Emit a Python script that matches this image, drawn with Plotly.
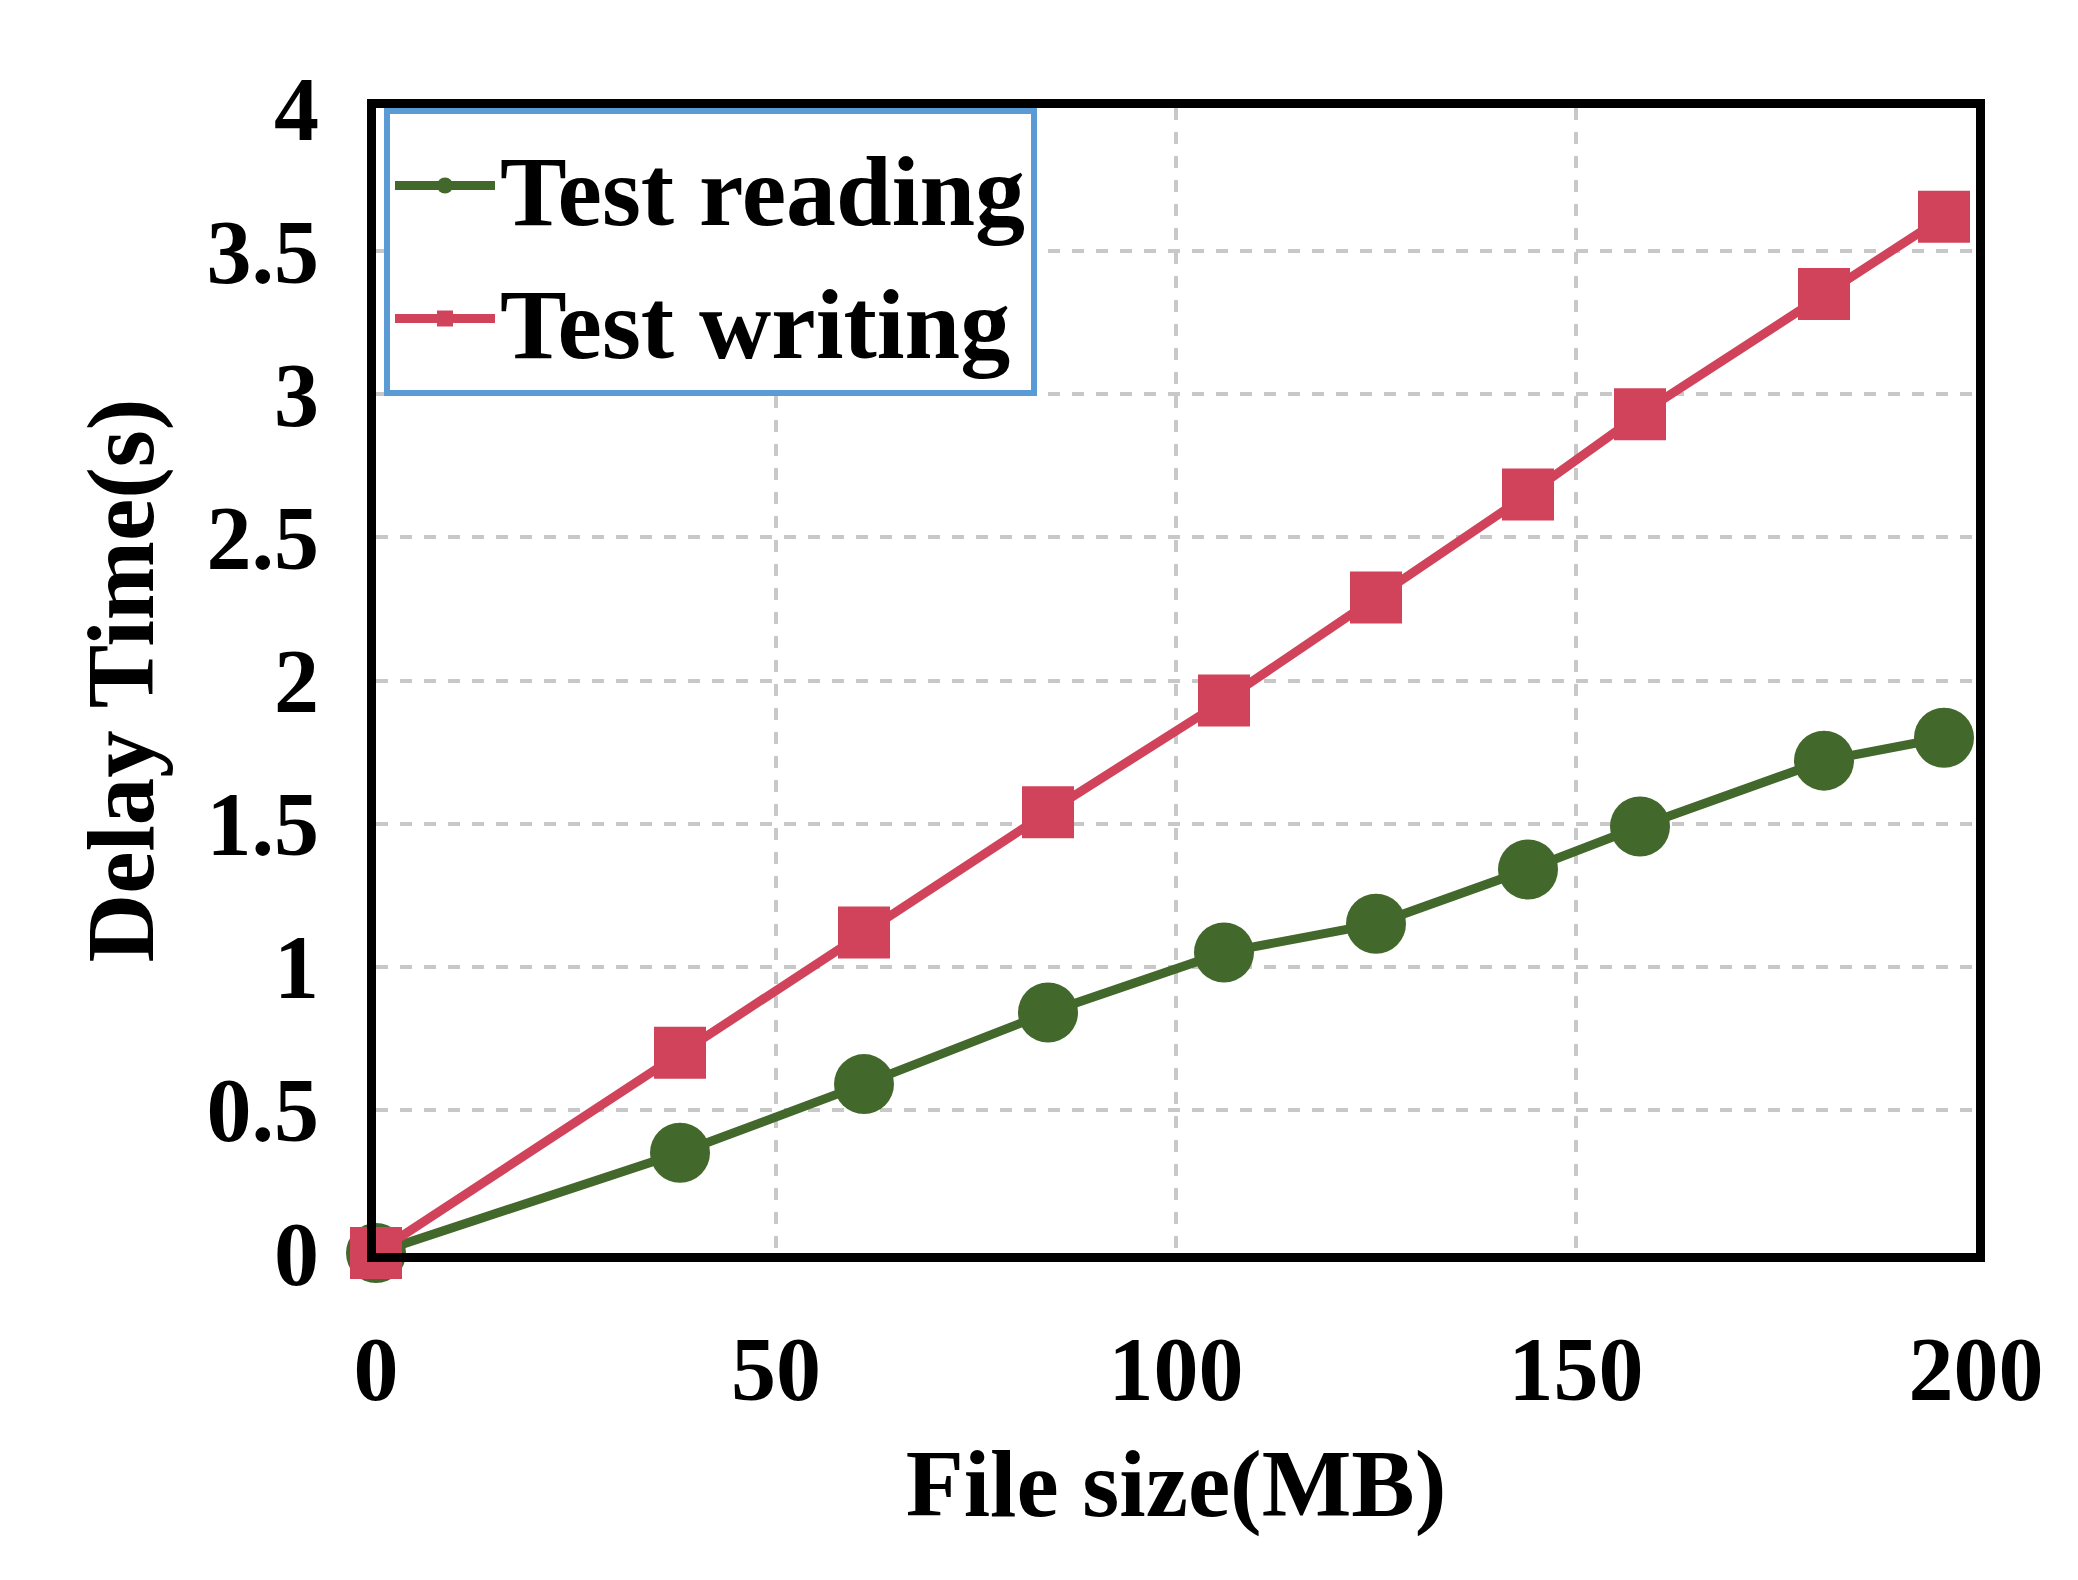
import plotly.graph_objects as go

x_size = [0, 38, 61, 84, 106, 125, 144, 158, 181, 196]
read_delay = [0, 0.35, 0.59, 0.84, 1.05, 1.15, 1.34, 1.49, 1.72, 1.80]
write_delay = [0, 0.70, 1.12, 1.54, 1.93, 2.29, 2.65, 2.93, 3.35, 3.62]

y_ticks = [0, 0.5, 1, 1.5, 2, 2.5, 3, 3.5, 4]
y_labels = ["0", "0.5", "1", "1.5", "2", "2.5", "3", "3.5", "4"]
x_ticks = [0, 50, 100, 150, 200]

font = "Liberation Serif"

fig = go.Figure()
fig.add_trace(go.Scatter(x=x_size, y=read_delay, name="<b>Test reading</b>", mode="lines+markers",
                         line=dict(color="#43682B", width=9),
                         marker=dict(symbol="circle", size=60, color="#43682B"),
                         cliponaxis=False))
fig.add_trace(go.Scatter(x=x_size, y=write_delay, name="<b>Test writing</b>", mode="lines+markers",
                         line=dict(color="#D0435B", width=9),
                         marker=dict(symbol="square", size=52, color="#D0435B"),
                         cliponaxis=False))

grid = dict(showgrid=True, gridcolor="#C8C8C8", gridwidth=4, griddash="dash")
fig.update_layout(
    width=2078, height=1580,
    margin=dict(l=368, r=110, t=100, b=335),
    plot_bgcolor="white", paper_bgcolor="white",
    font=dict(family=font, color="black", size=80),
    xaxis=dict(range=[0, 200], tickvals=x_ticks, ticks="", zeroline=False,
               showline=True, linecolor="black", linewidth=9, mirror=True,
               tickfont=dict(size=90, family=font, weight="bold"), ticklabelstandoff=30,
               title=dict(text="<b>File size(MB)</b>", font=dict(size=95), standoff=35),
               **grid),
    yaxis=dict(range=[0, 4], tickvals=y_ticks, ticktext=y_labels, ticks="", zeroline=False,
               showline=True, linecolor="black", linewidth=9, mirror=True,
               tickfont=dict(size=90, family=font, weight="bold"), ticklabelstandoff=30,
               title=dict(text="<b>Delay Time(s)</b>", font=dict(size=95), standoff=25),
               **grid),
    legend=dict(x=0.005, y=1.0, xanchor="left", yanchor="top",
                bordercolor="#5B9BD5", borderwidth=6, bgcolor="white",
                font=dict(size=100, family=font), itemwidth=100, tracegroupgap=40),
)

fig.write_html("out.html")
